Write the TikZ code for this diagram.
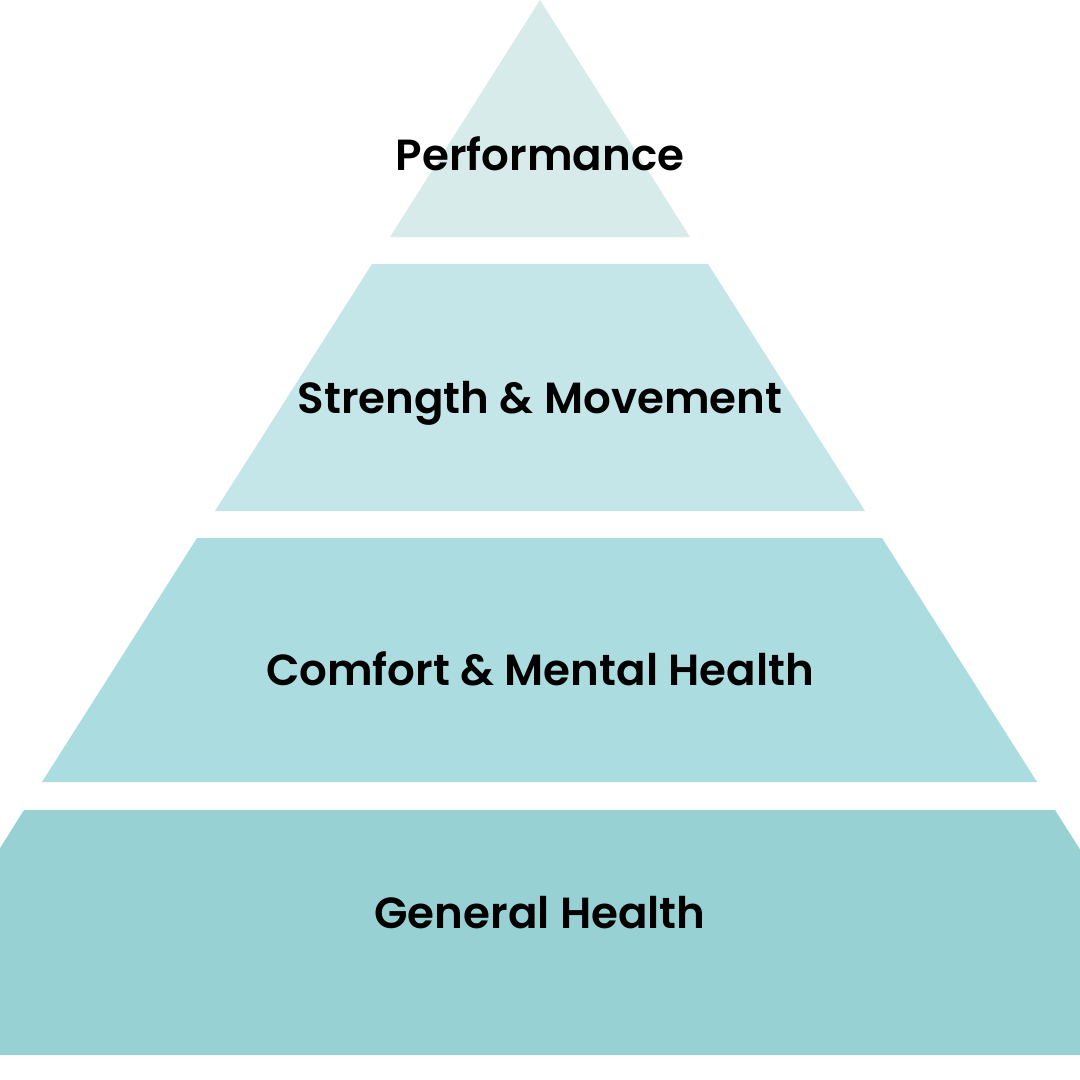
\documentclass[tikz,border=0pt]{standalone}
\usepackage{fontspec}
\newfontfamily\lab{Poppins SemiBold}
\definecolor{c1}{HTML}{D7ECEA}
\definecolor{c2}{HTML}{C5E6E9}
\definecolor{c3}{HTML}{ABDDE0}
\definecolor{c4}{HTML}{97D1D3}
\begin{document}
\begin{tikzpicture}[x=1bp,y=-1bp,
  lbl/.style={font=\lab\fontsize{43.7}{50}\selectfont, text=black, inner sep=0pt, anchor=base}]
\useasboundingbox (0,0) rectangle (1080,1080);
\fill[white] (0,0) rectangle (1080,1080);
\fill[c1] (540,0) -- (690,237) -- (390,237) -- cycle;
\fill[c2] (372,264) -- (708,264) -- (865,511) -- (215,511) -- cycle;
\fill[c3] (197,538) -- (882,538) -- (1037,782) -- (42,782) -- cycle;
\begin{scope}
\clip (0,0) rectangle (1080,1080);
\fill[c4] (24,810) -- (1055,810) -- (1210,1055) -- (-130,1055) -- cycle;
\end{scope}
\node[lbl] (p) at (540,170) {Performance};
\node[lbl] (s) at (540,413) {Strength \& Movement};
\node[lbl] (c) at (540,685) {Comfort \& Mental Health};
\node[lbl] (g) at (540,928) {General Health};
\end{tikzpicture}
\end{document}
